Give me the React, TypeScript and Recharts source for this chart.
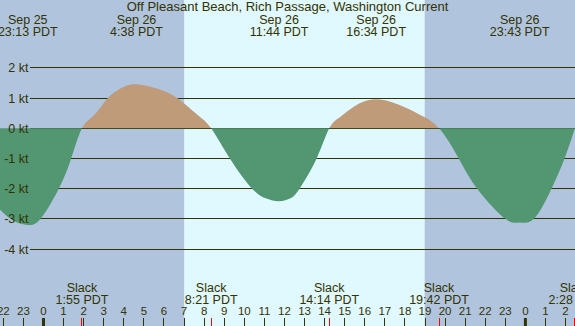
import React from 'react';
import { ComposedChart, Area, XAxis, YAxis, ReferenceLine, ReferenceArea } from 'recharts';

// ---------- data ----------
const TITLE = 'Off Pleasant Beach, Rich Passage, Washington Current';

// hours relative to Sep 26 00:00 PDT, current speed in knots (+ flood, - ebb)
const TIMES = [
  -2.166, -1.5, -0.783, -0.15, 0.76, 1.38, 1.917,
  2.5, 3.17, 3.83, 4.633, 5.83, 6.66, 7.65, 8.35,
  9.28, 10.39, 11.1, 11.733, 12.3, 12.75, 13.6, 14.233,
  14.79, 15.45, 16.567, 17.94, 18.77, 19.7,
  20.68, 21.6, 23.0, 23.717, 24.42, 25.3, 25.95, 26.467,
];
const SPEEDS = [
  -2.7, -3.06, -3.2, -3.0, -2.0, -1.0, 0,
  0.42, 0.98, 1.32, 1.46, 1.28, 1.0, 0.46, 0,
  -1.0, -2.0, -2.33, -2.42, -2.32, -2.0, -1.0, 0,
  0.38, 0.71, 0.96, 0.71, 0.44, 0,
  -1.0, -2.0, -3.0, -3.12, -3.0, -2.0, -1.0, 0,
];

const NIGHT_SPANS: [number, number][] = [[-2.166, 7.02], [18.97, 26.47]];
const DAY_SPANS: [number, number][] = [[7.02, 18.97]];

const KT_LEVELS = [2, 1, 0, -1, -2, -3, -4];
const HOUR_TICKS = [-2, -1, 0, 1, 2, 3, 4, 5, 6, 7, 8, 9, 10, 11, 12, 13, 14, 15, 16, 17, 18, 19, 20, 21, 22, 23, 24, 25, 26];
const MIDNIGHTS = [0, 24];

const PEAK_TIMES = [-0.783, 4.633, 11.733, 16.567, 23.717];
const PEAK_DATES = ['Sep 25', 'Sep 26', 'Sep 26', 'Sep 26', 'Sep 26'];
const PEAK_LABELS = ['23:13 PDT', '4:38 PDT', '11:44 PDT', '16:34 PDT', '23:43 PDT'];

const SLACK_TIMES = [1.917, 8.35, 14.233, 19.7, 26.467];
const SLACK_LABELS = ['1:55 PDT', '8:21 PDT', '14:14 PDT', '19:42 PDT', '2:28 PDT'];

// ---------- layout / style ----------
const W = 575;
const H = 326;
const X_MIN = -2.166;
const X_MAX = 26.47;
const Y_MIN = -6.55;
const Y_MAX = 4.25;
const GRID_START = -0.65;
const TICK_KT = 0.265;

const FONT = '"Liberation Sans", Arial, Helvetica, sans-serif';
const INK = '#333300';
const NIGHT = '#b0c4de';
const DAY = '#e0f8ff';
const FLOOD = '#bf9b7a';
const EBB = '#529672';

const data = TIMES.map((t, i) => ({ t, v: SPEEDS[i] }));
const zeroOffset = Y_MAX / (Y_MAX - Y_MIN);

const txt = { fill: INK, fontFamily: FONT, fontSize: 12.5 } as const;

const peakLabel = (i: number) => (props: any) => {
  const vb = props.viewBox || {};
  return (
    <g>
      <text x={vb.x} y={vb.y + 24} textAnchor="middle" {...txt}>{PEAK_DATES[i]}</text>
      <text x={vb.x} y={vb.y + 36} textAnchor="middle" {...txt}>{PEAK_LABELS[i]}</text>
    </g>
  );
};

const slackLabel = (i: number) => (props: any) => {
  const vb = props.viewBox || {};
  return (
    <g>
      <text x={vb.x} y={vb.y + 292} textAnchor="middle" {...txt}>Slack</text>
      <text x={vb.x} y={vb.y + 303.5} textAnchor="middle" {...txt}>{SLACK_LABELS[i]}</text>
    </g>
  );
};

const ktLabel = (k: number) => (props: any) => {
  const vb = props.viewBox || {};
  return (
    <text x={vb.x - 2} y={vb.y + 4.5} textAnchor="end" {...txt}>{`${k} kt`}</text>
  );
};

const hourLabel = (h: number) => (props: any) => {
  const vb = props.viewBox || {};
  const lab = ((h % 24) + 24) % 24;
  return (
    <text x={vb.x} y={vb.y - 3.5} textAnchor="middle" fill={INK} fontFamily={FONT} fontSize={11.5}>{lab}</text>
  );
};

export default function App() {
  return (
    <div style={{ position: 'absolute', left: 0, top: 0, width: W, height: H, overflow: 'hidden' }}>
      <svg width={0} height={0} style={{ position: 'absolute' }}>
        <defs>
          <linearGradient id="floodEbb" x1="0" y1="0" x2="0" y2={H} gradientUnits="userSpaceOnUse">
            <stop offset={zeroOffset} stopColor={FLOOD} />
            <stop offset={zeroOffset} stopColor={EBB} />
          </linearGradient>
        </defs>
      </svg>
      <ComposedChart width={W} height={H} data={data} margin={{ top: 0, right: 0, bottom: 0, left: 0 }}>
        <XAxis dataKey="t" type="number" domain={[X_MIN, X_MAX]} allowDataOverflow hide />
        <YAxis hide type="number" domain={[Y_MIN, Y_MAX]} allowDataOverflow />
        {NIGHT_SPANS.map(([a, b], i) => (
          <ReferenceArea key={`n${i}`} x1={a} x2={b} y1={Y_MIN} y2={Y_MAX} fill={NIGHT} fillOpacity={1} stroke="none" ifOverflow="hidden" zIndex={-300} />
        ))}
        {DAY_SPANS.map(([a, b], i) => (
          <ReferenceArea key={`d${i}`} x1={a} x2={b} y1={Y_MIN} y2={Y_MAX} fill={DAY} fillOpacity={1} stroke="none" ifOverflow="hidden" zIndex={-300} />
        ))}
        {KT_LEVELS.map((k) => (
          <ReferenceLine
            key={`k${k}`}
            segment={[{ x: GRID_START, y: k }, { x: X_MAX, y: k }]}
            stroke={INK}
            strokeWidth={1}
            shapeRendering="crispEdges"
            zIndex={-200}
          />
        ))}
        <Area
          type="natural"
          dataKey="v"
          baseValue={0}
          stroke="none"
          fill="url(#floodEbb)"
          fillOpacity={1}
          isAnimationActive={false}
          dot={false}
          activeDot={false}
        />
        {KT_LEVELS.map((k) => (
          <ReferenceLine
            key={`kl${k}`}
            segment={[{ x: GRID_START, y: k }, { x: X_MAX, y: k }]}
            stroke="none"
            label={ktLabel(k)}
            zIndex={1500}
          />
        ))}
        {PEAK_TIMES.map((t, i) => (
          <ReferenceLine key={`p${i}`} x={t} stroke="none" label={peakLabel(i)} zIndex={1500} />
        ))}
        {SLACK_TIMES.map((t, i) => (
          <ReferenceLine key={`s${i}`} x={t} stroke="none" label={slackLabel(i)} zIndex={1500} />
        ))}
        {HOUR_TICKS.map((h) => (
          <ReferenceLine
            key={`h${h}`}
            segment={[{ x: h, y: Y_MIN }, { x: h, y: Y_MIN + TICK_KT }]}
            stroke={INK}
            strokeWidth={1}
            shapeRendering="crispEdges"
            label={hourLabel(h)}
            ifOverflow="visible"
            zIndex={1500}
          />
        ))}
        {SLACK_TIMES.map((t, i) => (
          <ReferenceLine key={`r${i}`} segment={[{ x: t, y: Y_MIN }, { x: t, y: Y_MIN + TICK_KT }]} stroke="#ff0000" strokeWidth={1} shapeRendering="crispEdges" ifOverflow="visible" zIndex={1600} />
        ))}
        {MIDNIGHTS.map((t) => (
          <ReferenceLine key={`m${t}`} segment={[{ x: t, y: Y_MIN }, { x: t, y: Y_MIN + TICK_KT }]} stroke={INK} strokeWidth={3} zIndex={1600} />
        ))}
      </ComposedChart>
      <div
        style={{
          position: 'absolute', left: 0, top: 0, width: W, textAlign: 'center',
          fontFamily: FONT, fontSize: 13, lineHeight: '14px', color: INK, pointerEvents: 'none',
        }}
      >
        {TITLE}
      </div>
    </div>
  );
}
